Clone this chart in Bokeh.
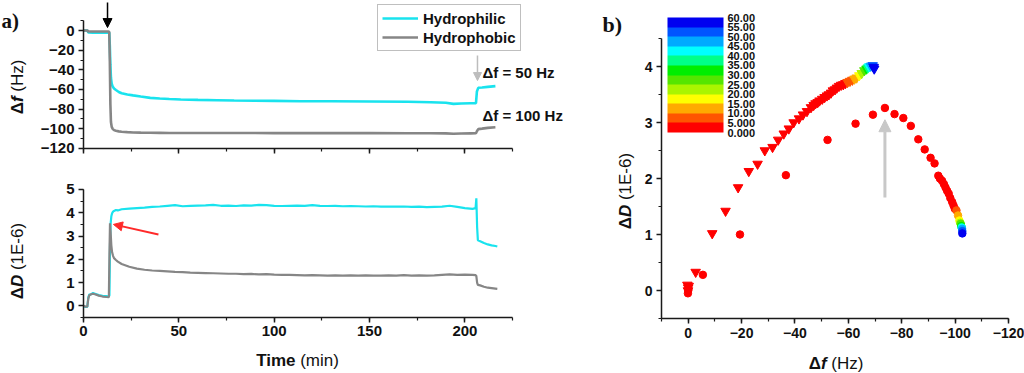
from bokeh.plotting import figure
from bokeh.models import (Range1d, Label, Legend, LegendItem, Arrow, NormalHead,
                          ColorBar, LinearColorMapper, FixedTicker, SingleIntervalTicker,
                          ColumnDataSource, AllLabels)
from bokeh.layouts import row, column
from bokeh.embed import file_html
from bokeh.resources import INLINE

# ---------------- data: panel a (time series) ----------------
time_f = [0, 2, 2.5, 5, 10, 13, 13.5, 13.8, 14.1, 14.4, 14.8, 15.3, 16, 17, 18.5, 20, 23, 26,
          30, 35, 40, 45, 51, 60, 70, 79, 90, 100, 114, 130, 150, 170, 182, 190, 194, 198,
          203, 205.8, 206.3, 207, 209, 212, 216]
df_phil = [0, 0, -2, -2.2, -2.3, -2, -2, -15, -35, -48, -54, -57, -59, -60.5, -62.5, -63.8,
           -65, -66, -67.2, -68.5, -69.2, -69.7, -70.2, -70.6, -70.9, -71.2, -71.4, -71.6,
           -71.9, -72.0, -72.2, -72.5, -72.9, -73.5, -74.6, -74.3, -74.0, -73.9, -62, -58.3,
           -58.0, -57.3, -56.6]
df_phob = [0, 0, -1, -1, -1, -1, -1.2, -30, -75, -93, -98, -100, -101.3, -102, -102.6, -103,
           -103.4, -103.7, -103.9, -104, -104.1, -104.2, -104.2, -104.3, -104.3, -104.3,
           -104.3, -104.4, -104.4, -104.4, -104.4, -104.5, -104.5, -104.6, -105, -104.8,
           -104.6, -104.5, -102.5, -100.3, -99.8, -99, -98.4]

time_d = [0, 1, 2, 2.5, 3, 4, 5, 6, 8, 10, 12, 13.3, 13.6, 13.9, 14.2, 14.6, 15, 15.5, 16, 17,
          18, 20, 24, 28, 32, 36, 40, 44, 48, 52, 56, 60, 64, 68, 72, 76, 80, 84, 88, 92, 96,
          100, 104, 108, 112, 116, 120, 124, 128, 132, 136, 140, 144, 148, 152, 156, 160, 164,
          168, 172, 176, 180, 184, 188, 192, 196, 200, 204, 205.6, 206, 206.4, 206.8, 208,
          210, 212, 214, 216, 217]
dd_phil = [0, -0.05, -0.05, 0.35, 0.48, 0.5, 0.55, 0.52, 0.46, 0.43, 0.42, 0.4, 0.45, 2.6,
           3.5, 3.85, 3.98, 4.05, 4.08, 4.12, 4.1, 4.15, 4.18, 4.2, 4.22, 4.25, 4.27, 4.3,
           4.33, 4.28, 4.3, 4.31, 4.32, 4.34, 4.3, 4.31, 4.29, 4.32, 4.31, 4.34, 4.33, 4.3,
           4.29, 4.3, 4.31, 4.3, 4.33, 4.3, 4.29, 4.3, 4.28, 4.29, 4.28, 4.27, 4.28, 4.26,
           4.27, 4.26, 4.27, 4.25, 4.26, 4.24, 4.25, 4.26, 4.3, 4.25, 4.2, 4.17, 4.2, 4.62,
           3.4, 2.82, 2.78, 2.7, 2.64, 2.6, 2.57, 2.55]
dd_phob = [0, -0.03, -0.03, 0.3, 0.45, 0.5, 0.52, 0.5, 0.44, 0.4, 0.38, 0.37, 2.2, 3.55,
           3.2, 2.6, 2.3, 2.15, 2.05, 1.97, 1.9, 1.8, 1.68, 1.6, 1.55, 1.52, 1.5, 1.48, 1.46,
           1.45, 1.43, 1.42, 1.41, 1.4, 1.39, 1.38, 1.38, 1.36, 1.37, 1.35, 1.36, 1.34, 1.33,
           1.33, 1.32, 1.31, 1.32, 1.31, 1.3, 1.31, 1.3, 1.31, 1.3, 1.31, 1.3, 1.3, 1.31, 1.3,
           1.32, 1.3, 1.31, 1.3, 1.31, 1.33, 1.35, 1.33, 1.34, 1.33, 1.32, 1.28, 1.0, 0.9,
           0.88, 0.82, 0.78, 0.76, 0.74, 0.73]

# ---------------- data: panel b (Df vs DD, coloured by time) ----------------
tri_df = [0.3, 0, 0.1, -0.2, -2.8, -9.0, -14.0, -18.7, -22.7, -26.0, -28.7, -31.6, -33.7,
          -35.8, -37.7, -39.5, -41.5, -43.0, -44.5, -46.0, -47.0, -47.7, -48.5, -49.2, -50.2,
          -51.1, -52.0, -52.7, -53.5, -54.2, -55.0, -55.7, -56.5, -57.3, -58.1, -58.9, -59.7,
          -60.6, -61.5, -62.3, -63.1, -64.1, -65.0, -66.0, -66.8, -67.3, -67.8, -68.4, -69.1,
          -69.5, -69.7]
tri_dd = [0.1, 0.05, 0.0, 0.08, 0.33, 1.02, 1.42, 1.84, 2.13, 2.26, 2.5, 2.56, 2.69, 2.80,
          2.89, 3.0, 3.07, 3.14, 3.20, 3.27, 3.31, 3.34, 3.36, 3.39, 3.42, 3.45, 3.48, 3.5,
          3.53, 3.57, 3.59, 3.62, 3.65, 3.67, 3.68, 3.70, 3.72, 3.74, 3.76, 3.78, 3.8, 3.84,
          3.88, 3.93, 3.96, 3.98, 4.0, 4.01, 4.02, 3.99, 3.96]
tri_t = [0, 0, 0, 0, 0.2, 0.4, 0.6, 0.8, 1.0, 1.2, 1.4, 1.6, 1.8, 2.0, 2.2, 2.4, 2.6, 2.8, 3.0,
         3.2, 3.3, 3.4, 3.5, 3.6, 3.7, 3.8, 3.9, 4.0, 4.1, 4.2, 4.3, 4.4, 4.5, 4.6, 4.7, 4.8,
         5.5, 7, 9, 11, 13, 17, 22, 27, 32, 37, 42, 47, 52, 56, 59]

cir_df = [0, 0.1, -0.1, -5.5, -19.4, -36.6, -52.2, -62.7, -69.2, -73.7, -77.3, -80.6, -83.4,
          -86.2, -88.6, -90.8, -92.3, -93.7, -94.3, -95.1, -95.8, -96.4, -97.0, -97.6, -98.2,
          -98.9, -99.4, -99.9, -100.5, -101.1, -101.6, -101.9, -102.1, -102.3, -102.4, -102.5,
          -102.6, -102.7, -102.7]
cir_dd = [0.0, -0.05, 0.03, 0.28, 1.0, 2.06, 2.69, 2.98, 3.14, 3.26, 3.15, 3.08, 2.94, 2.70,
          2.52, 2.37, 2.27, 2.05, 2.0, 1.96, 1.9, 1.84, 1.78, 1.73, 1.65, 1.58, 1.52, 1.46,
          1.43, 1.34, 1.25, 1.21, 1.19, 1.15, 1.13, 1.12, 1.1, 1.06, 1.02]
cir_t = [0, 0, 0, 0.2, 0.4, 0.6, 0.8, 1.0, 1.2, 1.4, 1.6, 1.8, 2.0, 2.2, 2.4, 2.6, 2.8, 3.0,
         3.2, 3.4, 3.6, 3.8, 4.0, 4.2, 4.4, 4.6, 4.8, 4.9, 7, 12, 17, 22, 27, 32, 37, 42, 47,
         52, 57]

cbar_ticks = [0, 5, 10, 15, 20, 25, 30, 35, 40, 45, 50, 55, 60]
cbar_labels = ["0.000", "5.000", "10.00", "15.00", "20.00", "25.00", "30.00", "35.00",
               "40.00", "45.00", "50.00", "55.00", "60.00"]
palette = ["#ff0000", "#ff5500", "#ffaa00", "#ffff00", "#aaf500", "#55e600", "#00ee00",
           "#00ff88", "#00ffff", "#00aaff", "#0055ff", "#0000f0"]

FONT = "Liberation Sans"
SERIF = "Liberation Serif"
CYAN = "#19e3ee"
GRAY = "#868686"


def mapper(L, R, T, B, xr, yr):
    fx = lambda wx: xr[0] + (wx - L) / (R - L) * (xr[1] - xr[0])
    fy = lambda wy: yr[0] + (B - wy) / (B - T) * (yr[1] - yr[0])
    return fx, fy


def style(p, size=14):
    p.outline_line_color = None
    p.xgrid.visible = False
    p.ygrid.visible = False
    for ax in (p.xaxis[0], p.yaxis[0]):
        ax.axis_line_width = 1.5
        ax.axis_line_color = "#1a1a1a"
        ax.major_tick_line_width = 1.5
        ax.major_tick_line_color = "#1a1a1a"
        ax.minor_tick_line_width = 1.2
        ax.minor_tick_line_color = "#1a1a1a"
        ax.major_tick_out = 5
        ax.major_tick_in = 0
        ax.minor_tick_out = 3
        ax.minor_tick_in = 0
        ax.major_label_text_font = FONT
        ax.major_label_text_font_style = "bold"
        ax.major_label_text_font_size = f"{size}px"
        ax.major_label_text_color = "#111111"
        ax.major_label_standoff = 4


def txt(p, f, wx, wy, text, size, fstyle="bold", font=FONT, align="left",
        baseline="middle", angle=0, color="#111111"):
    p.add_layout(Label(x=f[0](wx), y=f[1](wy), text=text, text_font=font,
                       text_font_size=f"{size}px", text_font_style=fstyle,
                       text_align=align, text_baseline=baseline, angle=angle,
                       angle_units="deg", text_color=color))


def fig(w, h, xr, yr):
    return figure(width=w, height=h, x_range=Range1d(*xr), y_range=Range1d(*yr),
                  min_border_left=0, min_border_right=0, min_border_top=0,
                  min_border_bottom=0, output_backend="svg", toolbar_location=None)


# ---------------- panel a, top ----------------
xr_a = (-43.52, 263.24)
yr1 = (-140.35, 30.52)
p1 = fig(585, 168, xr_a, yr1)
style(p1, 15)
p1.xaxis.ticker = SingleIntervalTicker(interval=50, num_minor_ticks=2)
p1.xaxis.bounds = (0, 225)
p1.xaxis.fixed_location = -120
p1.xaxis.major_label_overrides = {0: "", 50: "", 100: "", 150: "", 200: "", 250: ""}
p1.yaxis.ticker = SingleIntervalTicker(interval=20, num_minor_ticks=2)
p1.yaxis.bounds = (-120, 10)
p1.yaxis.fixed_location = 0
f1 = mapper(0, 585, 0, 168, xr_a, yr1)

r_phil = p1.line(time_f, df_phil, line_color=CYAN, line_width=2.6)
r_phob = p1.line(time_f, df_phob, line_color=GRAY, line_width=2.6)

legend = Legend(items=[LegendItem(label="Hydrophilic", renderers=[r_phil]),
                       LegendItem(label="Hydrophobic", renderers=[r_phob])],
                location=(377, 117), margin=0, padding=4, spacing=1,
                border_line_color="#7f7f7f", border_line_width=1,
                label_text_font=FONT, label_text_font_style="bold",
                label_text_font_size="15px", label_text_color="#111111",
                glyph_width=36, glyph_height=18, label_height=18, label_standoff=5)
p1.add_layout(legend)

p1.add_layout(Arrow(end=NormalHead(size=9, fill_color="black", line_color="black"),
                    x_start=12.6, y_start=28.5, x_end=12.6, y_end=3.0,
                    line_color="black", line_width=1.5))
p1.add_layout(Arrow(end=NormalHead(size=8, fill_color="#bdbdbd", line_color="#bdbdbd"),
                    x_start=206.6, y_start=-25.4, x_end=206.6, y_end=-50.9,
                    line_color="#bdbdbd", line_width=1.5))
txt(p1, f1, 482, 72, "\u0394f = 50 Hz", 15)
txt(p1, f1, 482, 115, "\u0394f = 100 Hz", 15)
# y title  Δf (Hz)
txt(p1, f1, 17, 101.6, "\u0394", 17, align="right", angle=90)
txt(p1, f1, 17, 101.6, "f", 17, fstyle="bold italic", angle=90)
txt(p1, f1, 17, 91.2, "(Hz)", 17, fstyle="normal", angle=90)
txt(p1, f1, 1, 8, "a)", 21, font=SERIF, baseline="top")

# ---------------- panel a, bottom ----------------
yr2 = (-2.907, 5.902)
p2 = fig(585, 205, xr_a, yr2)
style(p2, 15)
p2.xaxis.ticker = SingleIntervalTicker(interval=50, num_minor_ticks=2)
p2.xaxis.bounds = (0, 225)
p2.xaxis.fixed_location = -0.5
p2.yaxis.ticker = SingleIntervalTicker(interval=1, num_minor_ticks=2)
p2.yaxis.bounds = (-0.5, 5)
p2.yaxis.fixed_location = 0
f2 = mapper(0, 585, 168, 373, xr_a, yr2)

p2.line(time_d, dd_phil, line_color=CYAN, line_width=2.2)
p2.line(time_d, dd_phob, line_color=GRAY, line_width=2.2)
p2.add_layout(Arrow(end=NormalHead(size=9, fill_color="#ff2a2a", line_color="#ff2a2a"),
                    x_start=39.3, y_start=3.07, x_end=15.7, y_end=3.50,
                    line_color="#ff2a2a", line_width=2))
txt(p2, f2, 17, 286.6, "\u0394", 17, align="right", angle=90)
txt(p2, f2, 17, 286.6, "D", 17, fstyle="bold italic", angle=90)
txt(p2, f2, 17, 269.6, "(1E-6)", 17, fstyle="normal", angle=90)
txt(p2, f2, 295, 360, "Time", 17, align="right")
txt(p2, f2, 299.7, 360, "(min)", 17, fstyle="normal")

# ---------------- panel b ----------------
xr3 = (38.47, -125.99)
yr3 = (-1.482, 5.179)
p3 = fig(439, 373, xr3, yr3)
style(p3, 14)
p3.xaxis.ticker = SingleIntervalTicker(interval=20, num_minor_ticks=2)
p3.xaxis.bounds = (-120, 10)
p3.xaxis.fixed_location = -0.5
p3.yaxis.ticker = SingleIntervalTicker(interval=1, num_minor_ticks=2)
p3.yaxis.bounds = (-0.5, 4.5)
p3.yaxis.fixed_location = 10
f3 = mapper(585, 1024, 0, 373, xr3, yr3)

cmap = LinearColorMapper(palette=palette, low=0, high=60)
src_tri = ColumnDataSource(dict(x=tri_df, y=tri_dd, t=tri_t))
src_cir = ColumnDataSource(dict(x=cir_df, y=cir_dd, t=cir_t))
p3.scatter("x", "y", source=src_tri, marker="inverted_triangle", size=9.5,
           fill_color={"field": "t", "transform": cmap},
           line_color={"field": "t", "transform": cmap})
p3.scatter("x", "y", source=src_cir, marker="circle", size=7.5,
           fill_color={"field": "t", "transform": cmap},
           line_color={"field": "t", "transform": cmap})

cbar = ColorBar(color_mapper=cmap, ticker=FixedTicker(ticks=cbar_ticks),
                major_label_overrides={k: v for k, v in zip(cbar_ticks, cbar_labels)},
                major_label_policy=AllLabels(),
                orientation="vertical", width=56, height=115, location=(82, 241),
                padding=0, margin=0, major_tick_line_color=None, minor_tick_line_color=None,
                bar_line_color=None, border_line_color=None, background_fill_alpha=0,
                label_standoff=4, major_label_text_font=FONT,
                major_label_text_font_style="bold", major_label_text_font_size="11px",
                major_label_text_color="#111111")
p3.add_layout(cbar)

p3.add_layout(Arrow(end=NormalHead(size=12, fill_color="#c8c8c8", line_color="#c8c8c8"),
                    x_start=-73.7, y_start=1.66, x_end=-73.7, y_end=3.05,
                    line_color="#c8c8c8", line_width=3))
txt(p3, f3, 820.4, 363, "\u0394", 17, align="right")
txt(p3, f3, 820.4, 363, "f", 17, fstyle="bold italic")
txt(p3, f3, 830.8, 363, "(Hz)", 17, fstyle="normal")
txt(p3, f3, 625, 216.6, "\u0394", 17, align="right", angle=90)
txt(p3, f3, 625, 216.6, "D", 17, fstyle="bold italic", angle=90)
txt(p3, f3, 625, 199.6, "(1E-6)", 17, fstyle="normal", angle=90)
txt(p3, f3, 602, 11, "b)", 22, font=SERIF, baseline="top")

layout = row(column(p1, p2), p3)
open("out.html", "w").write(file_html(layout, INLINE))
